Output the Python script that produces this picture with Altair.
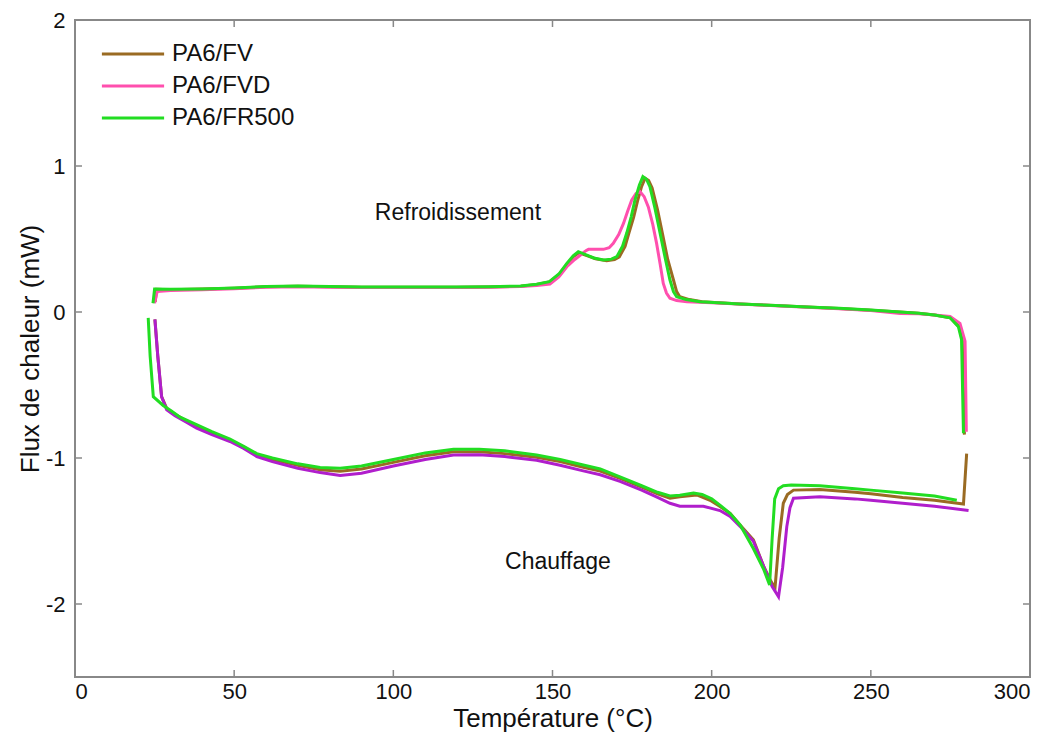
import altair as alt
import pandas as pd

# ---------------- data ----------------
# PA6/FV cooling (Refroidissement)
fv_cool_T = [25.2, 25.6, 30, 40, 50, 60, 70, 80, 90, 100, 110, 120, 130, 140, 145, 149, 152, 154.5, 156.5, 158.3, 161, 163.5, 167, 169.5, 171, 172.8, 174, 175.5, 176.7, 178, 179.1, 180.2, 181.3, 183, 184.6, 186.2, 188, 189, 190, 193, 197, 209, 220, 230, 240, 250, 259, 265, 270, 275, 277.7, 278.7, 279.4]
fv_cool_Y = [0.07, 0.155, 0.153, 0.157, 0.163, 0.173, 0.176, 0.173, 0.170, 0.170, 0.170, 0.170, 0.172, 0.176, 0.188, 0.205, 0.255, 0.325, 0.378, 0.405, 0.385, 0.365, 0.352, 0.36, 0.378, 0.45, 0.54, 0.65, 0.76, 0.86, 0.916, 0.9, 0.85, 0.70, 0.53, 0.36, 0.219, 0.14, 0.105, 0.085, 0.07, 0.054, 0.044, 0.034, 0.024, 0.012, 0.0, -0.009, -0.02, -0.04, -0.10, -0.19, -0.84]
# PA6/FV heating (Chauffage)
fv_heat_T = [25.1, 26.0, 27.2, 28.8, 31.4, 35, 38.2, 43, 48.7, 53, 57.1, 62, 70, 77, 83.3, 90, 100, 110, 118.9, 127, 135, 145, 152.4, 160, 165, 171.2, 178, 183, 186.9, 190, 195.3, 199.5, 202.5, 205.8, 209, 213.1, 216.3, 218.5, 219.9, 221.2, 222.5, 223.8, 225.7, 234, 245, 250, 260, 270, 279.1, 280.1]
fv_heat_Y = [-0.05, -0.3, -0.58, -0.66, -0.70, -0.745, -0.785, -0.83, -0.877, -0.925, -0.98, -1.01, -1.05, -1.08, -1.09, -1.075, -1.03, -0.985, -0.957, -0.957, -0.97, -0.995, -1.025, -1.065, -1.09, -1.14, -1.20, -1.245, -1.276, -1.265, -1.253, -1.29, -1.33, -1.38, -1.46, -1.56, -1.74, -1.84, -1.89, -1.55, -1.31, -1.25, -1.22, -1.215, -1.235, -1.245, -1.27, -1.29, -1.315, -0.97]

# PA6/FVD cooling
fvd_cool_T = [25.0, 25.8, 30, 40, 50, 60, 70, 80, 90, 100, 110, 120, 130, 140, 145, 149.2, 152, 154.5, 157, 159.2, 160.5, 161.3, 163.5, 166, 167.8, 169.1, 170.8, 172.3, 173.6, 174.9, 176.2, 177.5, 178.8, 180.1, 181.5, 182.7, 183.8, 184.8, 185.8, 186.9, 189, 192.2, 200, 210, 220, 230, 240, 250, 259.2, 265, 270, 274.9, 278, 279.6, 280]
fvd_cool_Y = [0.06, 0.14, 0.148, 0.152, 0.16, 0.17, 0.173, 0.17, 0.168, 0.168, 0.168, 0.168, 0.17, 0.174, 0.182, 0.192, 0.24, 0.31, 0.36, 0.397, 0.42, 0.429, 0.43, 0.429, 0.44, 0.47, 0.53, 0.607, 0.69, 0.767, 0.81, 0.824, 0.79, 0.72, 0.60, 0.47, 0.33, 0.196, 0.13, 0.094, 0.078, 0.071, 0.063, 0.053, 0.043, 0.033, 0.023, 0.011, -0.01, -0.012, -0.02, -0.03, -0.078, -0.20, -0.82]
# PA6/FVD heating
fvd_heat_T = [25.1, 26.0, 27.2, 28.8, 31.4, 35, 38.2, 43, 48.7, 53, 57.1, 62, 70, 77, 83.3, 90, 100, 110, 118.9, 127, 135, 145, 152.4, 160, 165, 171.2, 178, 183, 186.9, 190, 197.4, 202.6, 205.8, 209, 213.1, 216.3, 219, 221, 222.3, 223.6, 224.6, 225.7, 234, 245, 250, 260, 270, 280.7]
fvd_heat_Y = [-0.05, -0.3, -0.58, -0.67, -0.71, -0.755, -0.795, -0.84, -0.887, -0.935, -0.99, -1.025, -1.07, -1.10, -1.12, -1.105, -1.055, -1.01, -0.98, -0.978, -0.99, -1.015, -1.05, -1.09, -1.115, -1.16, -1.22, -1.27, -1.31, -1.33, -1.33, -1.36, -1.40, -1.47, -1.57, -1.74, -1.88, -1.95, -1.75, -1.47, -1.34, -1.276, -1.265, -1.28, -1.29, -1.31, -1.33, -1.36]

# PA6/FR500 cooling
fr_cool_T = [24.5, 25.0, 30, 40, 50, 60, 70, 80, 90, 100, 110, 120, 130, 140, 145, 149, 152, 154.5, 156.5, 158.1, 160.8, 163, 166, 168.5, 170.2, 172, 173.3, 174.7, 175.9, 177.3, 178.4, 179.5, 180.6, 182.2, 183.8, 185.4, 186.9, 188, 189, 192, 196.3, 208.9, 220, 230, 240, 250, 259, 265, 270, 274.9, 277.5, 278.5, 279.1]
fr_cool_Y = [0.06, 0.157, 0.155, 0.158, 0.165, 0.175, 0.178, 0.175, 0.172, 0.172, 0.172, 0.172, 0.173, 0.178, 0.19, 0.208, 0.26, 0.333, 0.385, 0.413, 0.39, 0.37, 0.356, 0.362, 0.379, 0.45, 0.539, 0.65, 0.767, 0.87, 0.927, 0.91, 0.858, 0.71, 0.539, 0.37, 0.219, 0.14, 0.105, 0.085, 0.071, 0.055, 0.045, 0.035, 0.025, 0.013, 0.0, -0.008, -0.02, -0.04, -0.10, -0.19, -0.83]
# PA6/FR500 heating
fr_heat_T = [23.0, 23.6, 24.6, 27.7, 30.4, 33, 38, 43, 48.7, 53, 57.1, 62, 70, 77, 83.3, 90, 100, 110, 118.9, 127, 135, 145, 152.4, 160, 165, 171.2, 178, 183, 186.9, 190, 194.3, 197, 200, 203, 205.8, 209, 213.1, 216.3, 218.2, 219.0, 219.8, 221, 222.5, 225, 234, 245, 250, 260, 270, 277]
fr_heat_Y = [-0.04, -0.3, -0.58, -0.64, -0.68, -0.72, -0.77, -0.82, -0.87, -0.92, -0.97, -1.00, -1.04, -1.065, -1.07, -1.055, -1.01, -0.965, -0.94, -0.94, -0.95, -0.98, -1.01, -1.05, -1.075, -1.13, -1.19, -1.235, -1.26, -1.255, -1.24, -1.25, -1.28, -1.33, -1.38, -1.46, -1.62, -1.76, -1.87, -1.55, -1.28, -1.21, -1.19, -1.185, -1.19, -1.21, -1.22, -1.24, -1.26, -1.29]

series_keys = ["PA6/FV", "PA6/FVD", "PA6/FR500", "PA6/FVD chauffage"]
series_colors = ["#9a6b23", "#ff4fae", "#22dd22", "#b01ecc"]
legend_keys = ["PA6/FV", "PA6/FVD", "PA6/FR500"]

x_ticks = [50, 100, 150, 200, 250]
y_ticks = [-2, -1, 0, 1]
x_labels = [0, 50, 100, 150, 200, 250, 300]
y_labels = [-2, -1, 0, 1, 2]

annotations = ["Refroidissement", "Chauffage"]
annot_T = [120.3, 151.7]
annot_Y = [0.68, -1.71]

FONT = "Liberation Sans"


def frame(T, Y, key, line):
    return pd.DataFrame({"T": T, "Y": Y, "key": key, "line": line, "i": list(range(len(T)))})


fv = pd.concat([frame(fv_cool_T, fv_cool_Y, "PA6/FV", "fv_c"),
                frame(fv_heat_T, fv_heat_Y, "PA6/FV", "fv_h")])
fvd = pd.concat([frame(fvd_cool_T, fvd_cool_Y, "PA6/FVD", "fvd_c"),
                 frame(fvd_heat_T, fvd_heat_Y, "PA6/FVD chauffage", "fvd_h")])
fr = pd.concat([frame(fr_cool_T, fr_cool_Y, "PA6/FR500", "fr_c"),
                frame(fr_heat_T, fr_heat_Y, "PA6/FR500", "fr_h")])

xscale = alt.Scale(domain=[0, 300], nice=False, zero=False)
yscale = alt.Scale(domain=[-2.5, 2], nice=False, zero=False)

color = alt.Color(
    "key:N",
    scale=alt.Scale(domain=series_keys, range=series_colors),
    legend=alt.Legend(
        values=legend_keys, title=None, orient="none", legendX=46, legendY=22,
        symbolType="M-3,0H3", symbolSize=430, symbolStrokeWidth=3,
        labelFont=FONT, labelFontSize=24, labelColor="#111", labelOffset=27,
        rowPadding=8, padding=0,
    ),
)

int_label = "datum.value < 0 ? '-' + abs(datum.value) : '' + datum.value"

xaxis = alt.Axis(values=x_labels, domain=False, ticks=False, grid=False,
                 labelFont=FONT, labelFontSize=22, labelColor="#111", labelPadding=4,
                 labelExpr=int_label,
                 title="Température (°C)", titleFont=FONT, titleFontSize=26,
                 titleFontWeight="normal", titleColor="#111", titleY=41,
                 titleBaseline="middle")
yaxis = alt.Axis(values=y_labels, domain=False, ticks=False, grid=False,
                 labelFont=FONT, labelFontSize=22, labelColor="#111", labelPadding=10,
                 labelExpr=int_label,
                 title="Flux de chaleur (mW)", titleFont=FONT, titleFontSize=26,
                 titleFontWeight="normal", titleColor="#111", titleX=-45,
                 titleBaseline="middle")


def lines(df):
    return alt.Chart(df).mark_line(strokeWidth=3, interpolate="linear").encode(
        x=alt.X("T:Q", scale=xscale, axis=xaxis),
        y=alt.Y("Y:Q", scale=yscale, axis=yaxis),
        color=color,
        detail="line:N",
        order="i:Q",
    )


tick_style = dict(color="#888888", strokeWidth=1.5)
tx = pd.DataFrame({"v": x_ticks})
ty = pd.DataFrame({"v": y_ticks})
tick_len_x = 2.2   # degrees (~7 px)
tick_len_y = 0.048  # mW (~7 px)

bottom_ticks = alt.Chart(tx).transform_calculate(
    y0="-2.5", y1=f"-2.5 + {tick_len_y}").mark_rule(**tick_style).encode(
    x=alt.X("v:Q", scale=xscale), y=alt.Y("y0:Q", scale=yscale), y2="y1:Q")
top_ticks = alt.Chart(tx).transform_calculate(
    y0="2", y1=f"2 - {tick_len_y}").mark_rule(**tick_style).encode(
    x=alt.X("v:Q", scale=xscale), y=alt.Y("y0:Q", scale=yscale), y2="y1:Q")
left_ticks = alt.Chart(ty).transform_calculate(
    x0="0", x1=f"{tick_len_x}").mark_rule(**tick_style).encode(
    y=alt.Y("v:Q", scale=yscale), x=alt.X("x0:Q", scale=xscale), x2="x1:Q")
right_ticks = alt.Chart(ty).transform_calculate(
    x0="300", x1=f"300 - {tick_len_x}").mark_rule(**tick_style).encode(
    y=alt.Y("v:Q", scale=yscale), x=alt.X("x0:Q", scale=xscale), x2="x1:Q")

annot_df = pd.DataFrame({"text": annotations, "T": annot_T, "Y": annot_Y})
annot = alt.Chart(annot_df).mark_text(font=FONT, fontSize=23, color="#111",
                                      align="center", baseline="middle").encode(
    x=alt.X("T:Q", scale=xscale), y=alt.Y("Y:Q", scale=yscale), text="text:N")

chart = alt.layer(
    lines(fv), lines(fvd), lines(fr),
    bottom_ticks, top_ticks, left_ticks, right_ticks, annot,
).properties(
    width=955, height=657,
    autosize=alt.AutoSizeParams(type="none"),
    padding={"left": 67, "top": 12, "right": 15, "bottom": 55},
    background="white",
).configure_view(stroke="#888888", strokeWidth=2)

chart.save("out.html", embed_options={"renderer": "svg", "actions": False})
